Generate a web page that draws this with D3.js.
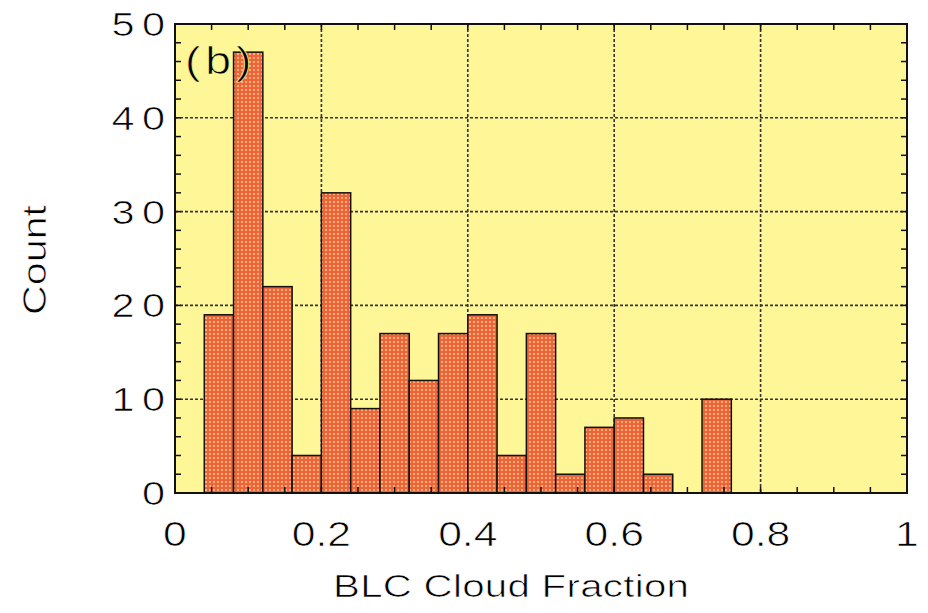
<!DOCTYPE html>
<html>
<head>
<meta charset="utf-8">
<script src="https://cdn.jsdelivr.net/npm/d3@7"></script>
<style>
  html, body { margin: 0; padding: 0; background: #ffffff; }
  svg { display: block; }
  text { font-family: "Liberation Sans", Arial, Helvetica, sans-serif; fill: #000;
         stroke: #ffffff; stroke-width: 0.7px; }
  text.on-plot { stroke: #fff797; }
</style>
</head>
<body>
<svg id="chart" width="928" height="613"></svg>
<script>
// Histogram of boundary-layer cloud fraction: left edge of each 0.04-wide bin and its count
const binStarts = [0.04, 0.08, 0.12, 0.16, 0.20, 0.24, 0.28, 0.32, 0.36, 0.40,
                   0.44, 0.48, 0.52, 0.56, 0.60, 0.64, 0.68, 0.72];
const binWidth = 0.04;
const counts = [19, 47, 22, 4, 32, 9, 17, 12, 17, 19,
                4, 17, 2, 7, 8, 2, 0, 10];

const xTickValues = [0, 0.2, 0.4, 0.6, 0.8, 1];
const xTickLabels = ["0", "0.2", "0.4", "0.6", "0.8", "1"];
const yTickValues = [0, 10, 20, 30, 40, 50];
const yTickLabels = ["0", "10", "20", "30", "40", "50"];

const xTitle = "BLC Cloud Fraction";
const yTitle = "Count";
const panelLabel = "(b)";

const svg = d3.select("#chart");
const plot = { left: 175, right: 907, top: 24, bottom: 493 };
const sx = 1.22; // wide lettering

const x = d3.scaleLinear().domain([0, 1]).range([plot.left, plot.right]);
const y = d3.scaleLinear().domain([0, 50]).range([plot.bottom, plot.top]);

// fine checkered fill for the bars
const defs = svg.append("defs");
const pat = defs.append("pattern")
  .attr("id", "checker")
  .attr("patternUnits", "userSpaceOnUse")
  .attr("width", 4).attr("height", 4);
pat.append("rect").attr("width", 4).attr("height", 4).attr("fill", "#ee6438");
pat.append("rect").attr("x", 1).attr("y", 1).attr("width", 2).attr("height", 2).attr("fill", "#f9b07a");

// plot background
svg.append("rect")
  .attr("x", plot.left).attr("y", plot.top)
  .attr("width", plot.right - plot.left).attr("height", plot.bottom - plot.top)
  .attr("fill", "#fff797");

// dotted grid
const grid = svg.append("g").attr("stroke", "#333").attr("stroke-width", 1.6)
  .attr("stroke-dasharray", "3,2");
grid.selectAll("line.gx").data(xTickValues.slice(1, -1)).join("line")
  .attr("x1", d => x(d)).attr("x2", d => x(d))
  .attr("y1", plot.top).attr("y2", plot.bottom);
grid.selectAll("line.gy").data(yTickValues.slice(1, -1)).join("line")
  .attr("x1", plot.left).attr("x2", plot.right)
  .attr("y1", d => y(d)).attr("y2", d => y(d));

// bars
const bins = binStarts.map((b, i) => ({ x0: b, x1: b + binWidth, n: counts[i] }));
svg.append("g").selectAll("rect").data(bins.filter(d => d.n > 0)).join("rect")
  .attr("x", d => x(d.x0))
  .attr("y", d => y(d.n))
  .attr("width", d => x(d.x1) - x(d.x0))
  .attr("height", d => y(0) - y(d.n))
  .attr("fill", "url(#checker)")
  .attr("stroke", "#111")
  .attr("stroke-width", 1.5);

// inward minor ticks on all four sides
const minorX = d3.range(0, 1.0001, 0.05);
const minorY = d3.range(0, 50.001, 2);
const ticks = svg.append("g").attr("stroke", "#111").attr("stroke-width", 1.5);
ticks.selectAll("line.bx").data(minorX).join("line")
  .attr("x1", d => x(d)).attr("x2", d => x(d))
  .attr("y1", plot.bottom).attr("y2", plot.bottom - 6);
ticks.selectAll("line.tx").data(minorX).join("line")
  .attr("x1", d => x(d)).attr("x2", d => x(d))
  .attr("y1", plot.top).attr("y2", plot.top + 6);
ticks.selectAll("line.ly").data(minorY).join("line")
  .attr("x1", plot.left).attr("x2", plot.left + 6)
  .attr("y1", d => y(d)).attr("y2", d => y(d));
ticks.selectAll("line.ry").data(minorY).join("line")
  .attr("x1", plot.right).attr("x2", plot.right - 6)
  .attr("y1", d => y(d)).attr("y2", d => y(d));

// frame
svg.append("rect")
  .attr("x", plot.left).attr("y", plot.top)
  .attr("width", plot.right - plot.left).attr("height", plot.bottom - plot.top)
  .attr("fill", "none").attr("stroke", "#111").attr("stroke-width", 2);

// x tick labels
svg.append("g").selectAll("g").data(xTickValues).join("g")
  .attr("transform", d => `translate(${x(d)},546)`)
  .append("text")
  .attr("transform", `scale(${sx},1)`)
  .attr("text-anchor", "middle")
  .attr("font-size", 35)
  .text((d, i) => xTickLabels[i]);

// y tick labels (digits set apart)
svg.append("g").selectAll("g").data(yTickValues).join("g")
  .attr("transform", d => `translate(165,${y(d) + 12})`)
  .append("text")
  .attr("transform", `scale(${sx},1)`)
  .attr("text-anchor", "end")
  .attr("font-size", 34)
  .attr("letter-spacing", 6)
  .attr("dx", 6)
  .text((d, i) => yTickLabels[i]);

// axis titles
svg.append("g").attr("transform", "translate(511,597)")
  .append("text")
  .attr("transform", "scale(1.26,1)")
  .attr("text-anchor", "middle")
  .attr("font-size", 32)
  .attr("textLength", 356 / 1.26)
  .attr("lengthAdjust", "spacing")
  .text(xTitle);

svg.append("g").attr("transform", "translate(46,260) rotate(-90) scale(1.25,1)")
  .append("text")
  .attr("text-anchor", "middle")
  .attr("font-size", 33)
  .text(yTitle);

// panel label
svg.append("g").attr("transform", "translate(185,74)")
  .append("text")
  .attr("class", "on-plot")
  .attr("transform", `scale(${sx},1)`)
  .attr("font-size", 38)
  .attr("letter-spacing", 4)
  .text(panelLabel);
</script>
</body>
</html>
